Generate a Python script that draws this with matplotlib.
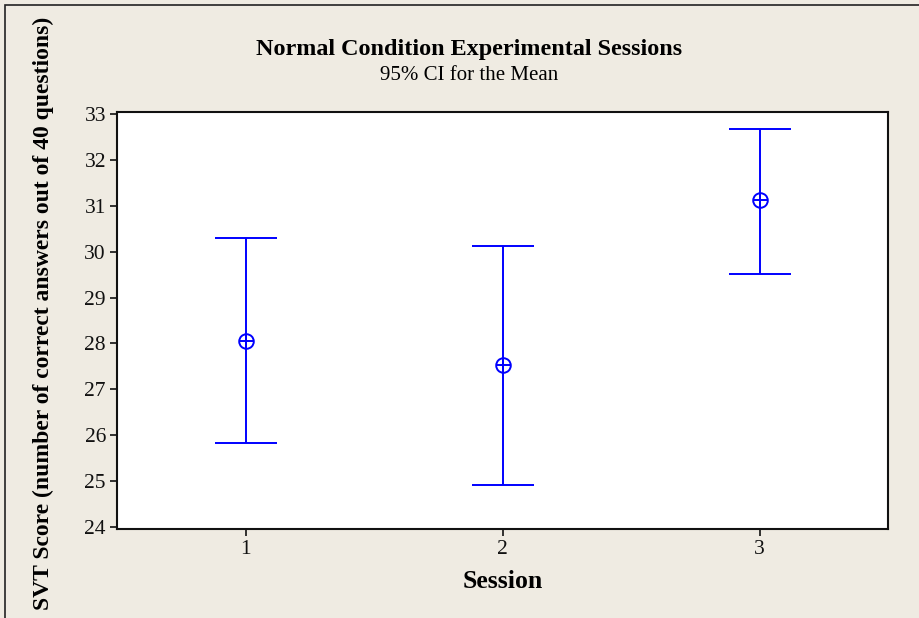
"""
Normal Condition Experimental Sessions - 95% CI interval plot
"""
import numpy as np
import matplotlib.pyplot as plt
from matplotlib.patches import Rectangle

# 数据
sessions = [1, 2, 3]
means = [28.05, 27.52, 31.12]
ci_lower = [25.82, 24.92, 29.52]
ci_upper = [30.30, 30.12, 32.68]
y_ticks = [24, 25, 26, 27, 28, 29, 30, 31, 32, 33]

plt.rcParams['font.family'] = ['Liberation Serif', 'DejaVu Serif']

fig = plt.figure(figsize=(9.19, 6.18), dpi=100)
fig.patch.set_facecolor('#efebe2')
ax = fig.add_axes([117 / 919, 1 - 529 / 618, (888 - 117) / 919, (529 - 112) / 618])
ax.set_facecolor('white')

# 外框
fig.patches.append(Rectangle((5 / 919, -0.1), 1.2, 1.1 - 5 / 618,
                             transform=fig.transFigure, fill=False,
                             edgecolor='#222222', linewidth=1.2))

x = np.array(sessions)
m = np.array(means)
yerr = [m - np.array(ci_lower), np.array(ci_upper) - m]
ax.errorbar(x, m, yerr=yerr, fmt='none', ecolor='blue', elinewidth=1.4,
            capsize=22, capthick=1.4)
ax.plot(x, m, 'o', mfc='none', mec='blue', ms=10.5, mew=1.4)
ax.plot(x, m, '+', color='blue', ms=10.5, mew=1.4)

ax.set_xlim(0.5, 3.5)
ax.set_ylim(23.95, 33.05)
ax.set_xticks(sessions)
ax.set_yticks(y_ticks)
ax.tick_params(direction='out', length=5, width=1.2, labelsize=15.5,
               colors='#111111', pad=3)
for s in ax.spines.values():
    s.set_linewidth(1.5)
    s.set_color('#111111')

ax.set_xlabel('Session', fontsize=18.5, fontweight='bold')
ax.xaxis.set_label_coords(0.5, -(582 - 529) / 417, transform=ax.transAxes)
ax.xaxis.label.set_va('center')
ax.set_ylabel('SVT Score (number of correct answers out of 40 questions)',
              fontsize=17, fontweight='bold')
ax.yaxis.set_label_coords((43 - 117) / 771, (529 - 313) / 417)
ax.yaxis.label.set_va('center')

fig.text(469 / 919, 1 - 50 / 618, 'Normal Condition Experimental Sessions',
         ha='center', va='center', fontsize=17.4, fontweight='bold')
fig.text(469 / 919, 1 - 75 / 618, '95% CI for the Mean',
         ha='center', va='center', fontsize=15)

fig.savefig('out.png', dpi=100, facecolor=fig.get_facecolor())
